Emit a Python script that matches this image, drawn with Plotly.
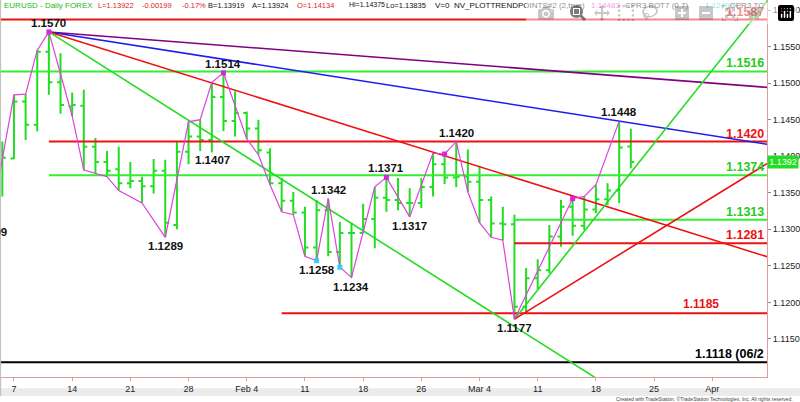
import numpy as np
import plotly.graph_objects as go

# ---------------- data ----------------
dates = ["2019-01-04", "2019-01-07", "2019-01-08", "2019-01-09", "2019-01-10", "2019-01-11",
         "2019-01-14", "2019-01-15", "2019-01-16", "2019-01-17", "2019-01-18",
         "2019-01-21", "2019-01-22", "2019-01-23", "2019-01-24", "2019-01-25",
         "2019-01-28", "2019-01-29", "2019-01-30", "2019-01-31", "2019-02-01",
         "2019-02-04", "2019-02-05", "2019-02-06", "2019-02-07", "2019-02-08",
         "2019-02-11", "2019-02-12", "2019-02-13", "2019-02-14", "2019-02-15",
         "2019-02-18", "2019-02-19", "2019-02-20", "2019-02-21", "2019-02-22",
         "2019-02-25", "2019-02-26", "2019-02-27", "2019-02-28", "2019-03-01",
         "2019-03-04", "2019-03-05", "2019-03-06", "2019-03-07", "2019-03-08",
         "2019-03-11", "2019-03-12", "2019-03-13", "2019-03-14", "2019-03-15",
         "2019-03-18", "2019-03-19", "2019-03-20", "2019-03-21"]
opens = [1.1390, 1.1397, 1.1475, 1.1443, 1.1543, 1.1501,
         1.1468, 1.1469, 1.1413, 1.1392, 1.1382,
         1.1363, 1.1366, 1.1359, 1.1380, 1.1306,
         1.1406, 1.1427, 1.1422, 1.1481, 1.1448,
         1.1459, 1.1438, 1.1405, 1.1363, 1.1339,
         1.1323, 1.1275, 1.1326, 1.1269, 1.1295,
         1.1295, 1.1314, 1.1343, 1.1340, 1.1336,
         1.1336, 1.1358, 1.1389, 1.1371, 1.1372,
         1.1365, 1.1340, 1.1308, 1.1307, 1.1194,
         1.1233, 1.1244, 1.1290, 1.1331, 1.1305,
         1.1327, 1.1341, 1.1353, 1.14134]
highs = [1.1420, 1.1484, 1.1485, 1.1545, 1.1570, 1.1541,
         1.1487, 1.1491, 1.1425, 1.1407, 1.1413,
         1.1392, 1.1372, 1.1396, 1.1395, 1.1420,
         1.1447, 1.1450, 1.1501, 1.1514, 1.1489,
         1.1461, 1.1450, 1.1411, 1.1370, 1.1351,
         1.1331, 1.1340, 1.1342, 1.1310, 1.1309,
         1.1335, 1.1358, 1.1371, 1.1370, 1.1356,
         1.1370, 1.1404, 1.1403, 1.1420, 1.1409,
         1.1387, 1.1345, 1.1331, 1.1320, 1.1247,
         1.1259, 1.1306, 1.1340, 1.1342, 1.1345,
         1.1361, 1.1363, 1.1448, 1.14375]
lows = [1.1345, 1.1396, 1.1422, 1.1434, 1.1484, 1.1458,
        1.1455, 1.1381, 1.1377, 1.1372, 1.1353,
        1.1356, 1.1336, 1.1349, 1.1289, 1.1300,
        1.1389, 1.1407, 1.1405, 1.1434, 1.1427,
        1.1424, 1.1402, 1.1361, 1.1324, 1.1320,
        1.1263, 1.1257, 1.1263, 1.1248, 1.1234,
        1.1295, 1.1274, 1.1324, 1.1326, 1.1317,
        1.1329, 1.1345, 1.1362, 1.1358, 1.1351,
        1.1309, 1.1289, 1.1285, 1.1177, 1.1185,
        1.1218, 1.1240, 1.1276, 1.1291, 1.1299,
        1.1322, 1.1333, 1.1336, 1.13835]
closes = [1.1398, 1.1475, 1.1443, 1.1543, 1.1501, 1.1470,
          1.1470, 1.1413, 1.1392, 1.1380, 1.1363,
          1.1366, 1.1359, 1.1380, 1.1309, 1.1406,
          1.1427, 1.1422, 1.1481, 1.1448, 1.1459,
          1.1438, 1.1408, 1.1363, 1.1339, 1.1323,
          1.1275, 1.1326, 1.1269, 1.1295, 1.1295,
          1.1314, 1.1343, 1.1340, 1.1336, 1.1336,
          1.1358, 1.1389, 1.1371, 1.1372, 1.1365,
          1.1340, 1.1308, 1.1307, 1.1194, 1.1233,
          1.1244, 1.1290, 1.1331, 1.1305, 1.1327,
          1.1341, 1.1353, 1.1412, 1.13922]

# swing ("trend points") line
zz_dates = ["2019-01-03", "2019-01-07", "2019-01-08", "2019-01-09", "2019-01-10",
            "2019-01-14", "2019-01-15", "2019-01-16", "2019-01-17", "2019-01-18",
            "2019-01-22", "2019-01-24", "2019-01-28", "2019-01-29", "2019-01-30",
            "2019-01-31", "2019-02-04", "2019-02-05", "2019-02-06", "2019-02-07",
            "2019-02-08", "2019-02-11", "2019-02-12", "2019-02-13", "2019-02-14",
            "2019-02-15", "2019-02-19", "2019-02-20", "2019-02-22", "2019-02-26",
            "2019-02-27", "2019-02-28", "2019-03-01", "2019-03-04", "2019-03-05",
            "2019-03-06", "2019-03-07", "2019-03-14", "2019-03-15", "2019-03-18",
            "2019-03-20"]
zz_prices = [1.1309, 1.1484, 1.1485, 1.1545, 1.1570,
             1.1455, 1.1381, 1.1377, 1.1372, 1.1353,
             1.1336, 1.1289, 1.1447, 1.1450, 1.1501,
             1.1514, 1.1424, 1.1402, 1.1361, 1.1324,
             1.1320, 1.1263, 1.1257, 1.1342, 1.1248,
             1.1234, 1.1358, 1.1371, 1.1317, 1.1404,
             1.1403, 1.1420, 1.1351, 1.1309, 1.1289,
             1.1285, 1.1177, 1.1342, 1.1345, 1.1361,
             1.1448]

dot_dates_mag = ["2019-01-10", "2019-01-31", "2019-02-20", "2019-02-27", "2019-03-14"]
dot_prices_mag = [1.1570, 1.1514, 1.1371, 1.1403, 1.1342]
dot_dates_cyan = ["2019-02-12", "2019-02-14"]
dot_prices_cyan = [1.1257, 1.1248]

# pivot labels
lbl_text = ["1.1570", "1.1514", "1.1420", "1.1371", "1.1342", "1.1448",
            "1.1407", "1.1289", "1.1258", "1.1234", "1.1317", "1.1177"]
lbl_dates = ["2019-01-10", "2019-01-31", "2019-02-28", "2019-02-20", "2019-02-13", "2019-03-20",
             "2019-01-29", "2019-01-24", "2019-02-12", "2019-02-15", "2019-02-22",
             "2019-03-07"]
lbl_prices = [1.1570, 1.1514, 1.1420, 1.1371, 1.1342, 1.1448,
              1.1407, 1.1289, 1.1257, 1.1234, 1.1317, 1.1177]
lbl_above = [True, True, True, True, True, True,
             False, False, False, False, False, False]
# low of 2019-01-03, whose label is cut by the left edge
edge_lbl_text, edge_lbl_price = "1.1309", 1.1309

# trend lines: (anchor date, anchor price, second date, second price, colour)
trend_lines = [
    ("2019-01-10", 1.1570, "2019-04-05", 1.1495, "#800080"),
    ("2019-01-10", 1.1570, "2019-03-20", 1.1448, "#1c1cf0"),
    ("2019-01-10", 1.1570, "2019-04-05", 1.1266, "#ee1111"),
    ("2019-01-10", 1.1570, "2019-03-07", 1.1167, "#22dd22"),
    ("2019-03-07", 1.1177, "2019-04-05", 1.1598, "#22dd22"),
    ("2019-03-07", 1.1177, "2019-04-05", 1.1383, "#ee1111"),
]

# horizontal levels
level_prices = [1.1587, 1.1516, 1.1420, 1.1374, 1.1313, 1.1281, 1.1185, 1.1118]
level_colors = ["#ee1111", "#33ee33", "#ee1111", "#33ee33", "#33ee33", "#ee1111", "#ee1111", "#000000"]
level_start = [None, None, "2019-01-10", "2019-01-10", "2019-03-07", "2019-03-07", "2019-02-07", None]
level_text = ["1.1587", "1.1516", "1.1420", "1.1374", "1.1313", "1.1281", "1.1185", "1.1118 (06/2"]
level_text_color = ["#ee1111", "#22cc22", "#ee1111", "#22cc22", "#22cc22", "#ee1111", "#ee1111", "#000000"]
label_1185_date = "2019-03-29"

tick_dates = ["2019-01-07", "2019-01-14", "2019-01-21", "2019-01-28", "2019-02-04", "2019-02-11",
              "2019-02-18", "2019-02-25", "2019-03-04", "2019-03-11", "2019-03-18", "2019-03-25",
              "2019-04-01"]
tick_text = ["7", "14", "21", "28", "Feb 4", "11", "18", "26", "Mar 4", "11", "18", "25", "Apr"]
y_ticks = [1.1150, 1.1200, 1.1250, 1.1300, 1.1350, 1.1400, 1.1450, 1.1500, 1.1550, 1.1600]

last_price = 1.13922

# header pieces: (text, colour, left pixel, font size)
header = [
    ("EURUSD - Daily", "#22bb22", 2, 8),
    ("FOREX", "#22bb22", 63, 8),
    ("L=1.13922", "#dd2222", 96, 7.5),
    ("-0.00199", "#dd2222", 140, 7.5),
    ("-0.17%", "#dd2222", 180, 7.5),
    ("B=1.13919", "#111111", 206, 7.5),
    ("A=1.13924", "#111111", 250, 7.5),
    ("O=1.14134", "#dd2222", 295, 7.5),
    ("Hi=1.14375", "#111111", 347, 7),
    ("Lo=1.13835", "#111111", 384, 7.5),
    ("V=0", "#111111", 433, 8),
    ("NV_PLOTTRENDPOINTS#2 (2,true)", "#111111", 452, 8),
    ("1.14483", "#dd33dd", 589, 8),
    ("CPR3 BOT7 (0,7)", "#111111", 623, 8),
    ("1.12490", "#22cccc", 703, 8),
    ("CPR3 TC", "#111111", 728, 8),
]

# ---------------- helpers ----------------
BASE = "2019-01-07"


def xi(d):
    return int(np.busday_count(BASE, d))


X_MIN, X_MAX = -1.2, 64.7
Y_MIN, Y_MAX = 1.10979, 1.16137
FONT = "Liberation Sans, Arial, sans-serif"
AXIS_COL = "#e39a9a"

fig = go.Figure()

# horizontal levels
for p, c, s in zip(level_prices, level_colors, level_start):
    x0 = X_MIN - 2 if s is None else xi(s)
    fig.add_trace(go.Scatter(x=[x0, X_MAX + 2], y=[p, p], mode="lines",
                             line=dict(color=c, width=2), hoverinfo="skip"))

# trend lines
for d0, p0, d1, p1, c in trend_lines:
    x0, x1 = xi(d0), xi(d1)
    slope = (p1 - p0) / (x1 - x0)
    xe = X_MAX + 2
    fig.add_trace(go.Scatter(x=[x0, xe], y=[p0, p0 + slope * (xe - x0)], mode="lines",
                             line=dict(color=c, width=1.6), hoverinfo="skip"))

# bars
xs = [xi(d) for d in dates]
fig.add_trace(go.Ohlc(x=xs, open=opens, high=highs, low=lows, close=closes,
                      increasing=dict(line=dict(color="#22dd22", width=2)),
                      decreasing=dict(line=dict(color="#22dd22", width=2)),
                      tickwidth=0.3, hoverinfo="skip"))

# swing line
fig.add_trace(go.Scatter(x=[xi(d) for d in zz_dates], y=zz_prices, mode="lines",
                         line=dict(color="#e040e0", width=1.2), hoverinfo="skip"))
fig.add_trace(go.Scatter(x=[xi(d) for d in dot_dates_mag], y=dot_prices_mag, mode="markers",
                         marker=dict(color="#e020e0", size=5, symbol="square"), hoverinfo="skip"))
fig.add_trace(go.Scatter(x=[xi(d) for d in dot_dates_cyan], y=dot_prices_cyan, mode="markers",
                         marker=dict(color="#30d0f0", size=5, symbol="square"), hoverinfo="skip"))

annotations = []
for t, d, p, above in zip(lbl_text, lbl_dates, lbl_prices, lbl_above):
    xshift = 12 if t == "1.1407" else 0
    annotations.append(dict(x=xi(d), y=p, xref="x", yref="y", text="<b>%s</b>" % t,
                            showarrow=False, xanchor="center",
                            yanchor="bottom" if above else "top",
                            yshift=1 if above else -1, xshift=xshift,
                            font=dict(family=FONT, size=11.5, color="#111111")))
annotations.append(dict(x=0, y=edge_lbl_price, xref="paper", yref="y",
                        text="<b>%s</b>" % edge_lbl_text, showarrow=False,
                        xanchor="right", yanchor="top", xshift=8.5, yshift=-1,
                        font=dict(family=FONT, size=11.5, color="#111111")))

for p, t, c in zip(level_prices, level_text, level_text_color):
    if t == "1.1185":
        annotations.append(dict(x=xi(label_1185_date), y=p, xref="x", yref="y",
                                text="<b>%s</b>" % t, showarrow=False, xanchor="center",
                                yanchor="bottom", yshift=0,
                                font=dict(family=FONT, size=12, color=c)))
    else:
        annotations.append(dict(x=1, y=p, xref="paper", yref="y", text="<b>%s</b>" % t,
                                showarrow=False, xanchor="right", yanchor="bottom",
                                xshift=-1, yshift=-1,
                                font=dict(family=FONT, size=12.5, color=c)))

# header
for t, c, px, fs in header:
    annotations.append(dict(x=0, y=1, xref="paper", yref="paper", text=t, showarrow=False,
                            xanchor="left", yanchor="top", xshift=px, yshift=1,
                            font=dict(family=FONT, size=fs, color=c)))

# last price box
annotations.append(dict(x=1, y=last_price, xref="paper", yref="y", text="%.4f" % last_price,
                        showarrow=False, xanchor="left", yanchor="middle", xshift=0,
                        bgcolor="#22dd22", borderpad=1, width=28,
                        font=dict(family=FONT, size=9, color="#ffffff")))

# footer
annotations.append(dict(x=1, y=0, xref="paper", yref="paper",
                        text="Created with TradeStation. \u00a9TradeStation Technologies, Inc. All rights reserved.",
                        showarrow=False, xanchor="right", yanchor="top", xshift=28, yshift=-17,
                        font=dict(family=FONT, size=5, color="#444444")))

shapes = [
    dict(type="rect", xref="paper", yref="paper", x0=-0.01, x1=1.05, y0=-0.0505, y1=-0.030,
         fillcolor="#ebebeb", line=dict(width=0), layer="below"),
    dict(type="line", xref="paper", yref="paper", x0=0.0008, x1=0.0008, y0=-0.05, y1=1,
         line=dict(color="#bbbbbb", width=1)),
]

fig.update_layout(
    width=800, height=402,
    margin=dict(l=0, r=31, t=0, b=25),
    paper_bgcolor="#ffffff", plot_bgcolor="#ffffff",
    showlegend=False, hovermode=False,
    annotations=annotations, shapes=shapes,
    xaxis=dict(range=[X_MIN, X_MAX], tickvals=[xi(d) for d in tick_dates], ticktext=tick_text,
               ticks="outside", ticklen=3, tickcolor=AXIS_COL, showline=True, linecolor=AXIS_COL,
               linewidth=1, showgrid=False, zeroline=False, rangeslider=dict(visible=False),
               tickfont=dict(family=FONT, size=9, color="#222222")),
    yaxis=dict(range=[Y_MIN, Y_MAX], side="right", tickvals=y_ticks, tickformat=".4f",
               ticks="outside", ticklen=3, tickcolor="#888888", showline=True, linecolor=AXIS_COL,
               linewidth=1, showgrid=False, zeroline=False,
               tickfont=dict(family=FONT, size=9, color="#222222")),
)

fig.write_html("out.html",
               post_script="document.body.style.margin='0';document.body.style.overflow='hidden';")
